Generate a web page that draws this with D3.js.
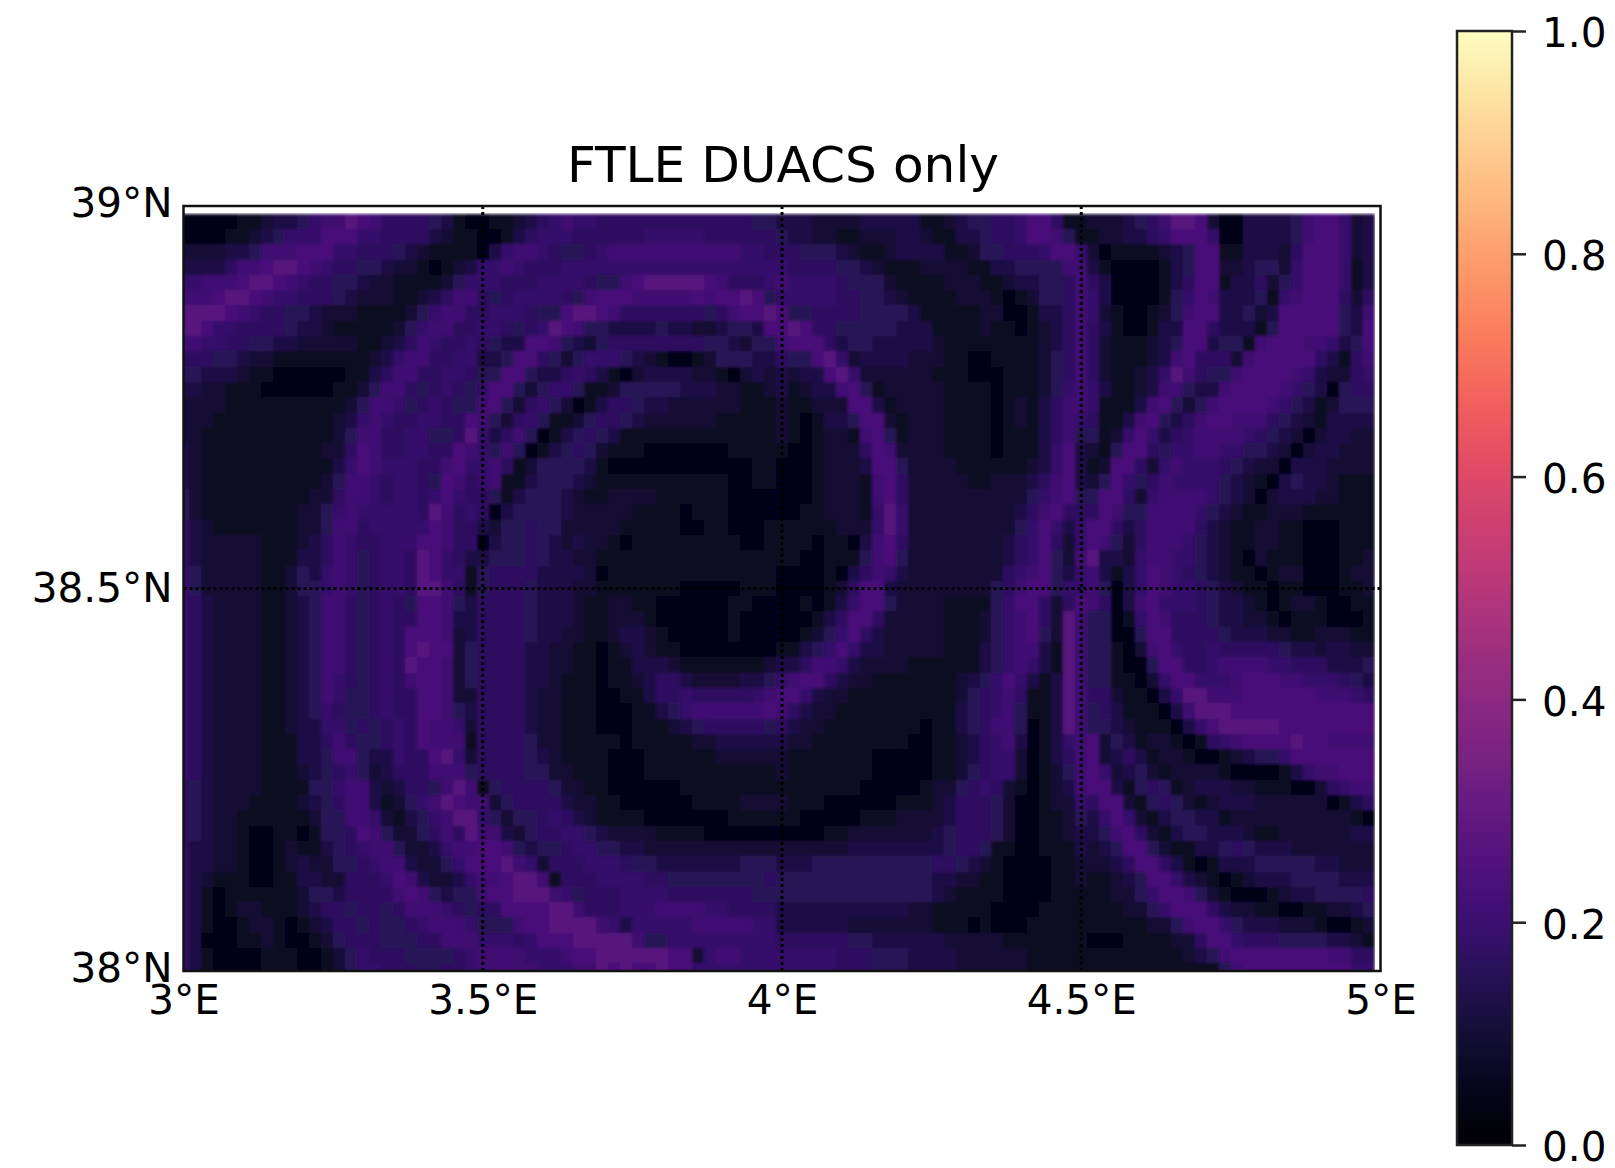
<!DOCTYPE html>
<html>
<head>
<meta charset="utf-8">
<script src="https://cdn.jsdelivr.net/npm/d3@7"></script>
<style>
body { margin: 0; background: #fff; }
text { font-family: "DejaVu Sans", sans-serif; fill: #000; }
</style>
</head>
<body>
<svg id="chart" width="1615" height="1168"></svg>
<script>
const title = "FTLE DUACS only";
const lonTicks = [3, 3.5, 4, 4.5, 5];
const latTicks = [38, 38.5, 39];
const colorTicks = [0, 0.2, 0.4, 0.6, 0.8, 1];
const gridStep = 0.02;

// FTLE, one digit per cell, as an index into levelValues.
const levelValues = [0.035, 0.07, 0.095, 0.125, 0.15, 0.17, 0.19, 0.21, 0.235, 0.265];

// rows run from 38.98N (first) to 38.00N (last)
// longitudes 3.00 - 3.48
const lonBlock1 = [
"0000011233467798755554310","0000112346668886655553211","2222334777888665554321111","3333577899876554432210123",
"6677789987655443221111246","7778998766555432221123577","9999876554432221111246775","9986655554332111112467755",
"7766554433222221123576556","5554432211111111236775566","4433321100000011357755665","3322111000000112477545654",
"2222111111111124776456544","2221111111111236765566558","2211111111111247755664459","3211111111112258755665587",
"3211111111111368766655786","3211111111112477656654875","4211111111122577656656865","4211111111224676666659756",
"5321111111224775666668755","5322222111235765566688755","5322222111335764566598653","6422222112436764566598661",
"6422222112446764566599751","6532222112347754565488743","6532222112347754565588733","6532222112347754565888723",
"6532222112347754565898824","6532222112347754565988724","6532222112347654565788724","6532222112347644565588722",
"6532222112346544565588743","6532222112336645456587762","6532222111335754456587771","6532222111334774336558962",
"6532222111234564235557774","5432222111144677323554797","5432221111234577312467987","5432211111124477621346799",
"5432210011014458742245759","5332210012113456774223677","5332210012322445677322468","5321110011332255568732236",
"5310111111244355557874344","5310122111235545545777654","5310012210123554544567776","5300011210012455544455777",
"5310000111001246555444456","5310000111001246655544556"];
// longitudes 3.50 - 3.98
const lonBlock2 = [
"0112356766555555555555544","0013566655555566666555555","0367765445677777777777665","6676555666666666666666666",
"6655566665447899999875556","5456666547888777778788984","5666544899875555555457889","6654569874433334332234438",
"5433887432455555555443244","3348854246664321001244433","4488433565310233332210232","6884246641124444433322112",
"7842564201355433222222111","7425641124554322222211111","6357401345431111111111111","6474013454211100000001111",
"6751244443100000000000011","6711344432111111111110011","5413444321122221111110000","5034444322222111101110000",
"3244544222221111100110001","0344543232210111111111001","3444543322111111111111111","4555533332011111111111111",
"4555433322111111100000111","5555433321122110000001100","5555433321122210000001000","5555433221123321000001000",
"5555332211012321100000000","5555332211011333211111112","5555332111011235532222334","5555322111001135565555567",
"5555322111000113467777778","5555322111000111234555554","5555422111110111112233333","5555432111100011111122222",
"5555442211100011111111111","1455554221100000011111111","7245555322110000001111222","6424456532111100000001111",
"7732455664322221111000000","8874344566443322222222222","8897625556665443333333444","7789971555666655444444445",
"7889997645556666555555544","5588889975556667777665555","4447889999763666667777766","6665688899999744666666666",
"7777666788999999882677666","7777766677989889886666666"];
// longitudes 4.00 - 4.48
const lonBlock3 = [
"3332222333331123445568851","4332211222332113345568874","5544432112333311244555688","6555544321112222113344447",
"7666654442111122211233445","6666655443211112221012445","8445555444431111122001335","8985544444333111121101235",
"7888534433333211111111235","5448962333322211001111245","3233896222222111000111245","3123378412222211110111246",
"2112228831222211110121357","2101334882122211110121357","2101221784122211110111357","1001222587222211110111368",
"0001222388422221111112368","0001222178522222112223578","0001222178522222222224678","0011222169622222222235785",
"1111122269622222222246863","1110110378522222222356852","1100111478422222222356842","0000103576322222222567843",
"0000125883222222224578846","0010136884222211114688525","0001358852222211124678529","0012468532222211124678429",
"1134686332222211134677319","3357763222211111134676319","6788532211111112346863139","8863221111111112456751139",
"7532211111111113456741139","5322111111110113457740139","3221111111100112356730136","2111111100000112356620135",
"2111111100000112456620124","1111111000001224565210123","2111000000111235554200122","1100000111222235554200112",
"0000112222222345554200112","2222223333333345541100111","3334444444444554321000011","4444444444444332211000011",
"4444444444444321111000011","3333333333322111110000111","3333332222222111010001111","5555554433333322222111111",
"6666655544433332222221111","6666655544433332222221111"];
// longitudes 4.50 - 4.98
const lonBlock4 = [
"1222345799820033334788623","1122335688860033334788623","6201111234881133325888623","7310000134882234426888613",
"7530000135881335246888613","7630000146873334167888525","7621001247883342388888437","7531001338853331488888438",
"7521112348834417888776348","7521112378555278888853157","7521123697544788887632256","7631123774337888876430455",
"7611137842478888764312444","6511378435788777543213333","4412686356777765432023322","3214885466776644320233222",
"3128852676665432203332222","3248645766664321034332111","4488526777764320233322111","5587447777643211222111111",
"6885357777532112211000111","6874257776432112211000111","7933267766432102111000112","6731368765432110122000122",
"6740368766543211011000112","8750378666543321012210011","7440168755543322101110001","7440048855554333221122211",
"7441027865565555543323322","7441004885567777665553334","7441102688666788877666543","7552110369977788888877765",
"7453111037999888888888888","7443211103689999988888888","7824312210156788889887777","7823531221001234468888888",
"7862342122221000013677888","7883145412333221110025677","6588214542123332222220135","4368621344331222222222210",
"3347852134433321122222233","3234884211334543332222222","2223588531013334444433222","2112348863210123334444333",
"1112246887421000123344445","1111224688853221100112234","1111112247886433322210012","1000111122588655544443321",
"1111111112347888888887755","1111111111114788888888866"];

const lonBlocks = [lonBlock1, lonBlock2, lonBlock3, lonBlock4];

const plot = {left: 183.5, right: 1380.5, top: 206, bottom: 971};
const bar = {left: 1457, right: 1512, top: 31, bottom: 1145};

const svg = d3.select("#chart");

const x = d3.scaleLinear().domain([3, 5]).range([plot.left, plot.right]);
const y = d3.scaleLinear().domain([38, 39]).range([plot.bottom, plot.top]);
const c = d3.scaleSequential(d3.interpolateMagma).domain([0, 1]);
const yBar = d3.scaleLinear().domain([0, 1]).range([bar.bottom, bar.top]);

const cells = [];
lonBlocks.forEach((block, b) => {
    block.forEach((row, r) => {
        row.split("").forEach((ch, k) => {
            cells.push({
                lon: 3 + (b * 25 + k) * gridStep,
                lat: 38.98 - r * gridStep,
                value: levelValues[+ch]
            });
        });
    });
});

const defs = svg.append("defs");

defs.append("clipPath").attr("id", "map-clip")
  .append("rect")
    .attr("x", plot.left)
    .attr("y", plot.top)
    .attr("width", plot.right - plot.left)
    .attr("height", plot.bottom - plot.top);

// the reference image is a little soft
defs.append("filter").attr("id", "soft")
    .attr("x", 0).attr("y", 0).attr("width", 1).attr("height", 1)
  .append("feGaussianBlur").attr("stdDeviation", 1.4);

const map = svg.append("g").attr("clip-path", "url(#map-clip)");

map.append("g").attr("filter", "url(#soft)")
  .selectAll("rect")
    .data(cells)
    .join("rect")
    .attr("x", d => x(d.lon - gridStep / 2))
    .attr("y", d => y(d.lat + gridStep / 2))
    .attr("width", x(gridStep) - x(0))
    .attr("height", y(0) - y(gridStep))
    .attr("fill", d => c(d.value))
    .attr("shape-rendering", "crispEdges");

// dotted graticule
map.selectAll(".meridian")
    .data(lonTicks.slice(1, -1))
    .join("line")
    .attr("class", "meridian")
    .attr("x1", d => x(d))
    .attr("x2", d => x(d))
    .attr("y1", plot.top)
    .attr("y2", plot.bottom)
    .attr("stroke", "#000")
    .attr("stroke-width", 3)
    .attr("stroke-dasharray", "3 3");

map.selectAll(".parallel")
    .data(latTicks.slice(1, -1))
    .join("line")
    .attr("class", "parallel")
    .attr("x1", plot.left)
    .attr("x2", plot.right)
    .attr("y1", d => y(d))
    .attr("y2", d => y(d))
    .attr("stroke", "#000")
    .attr("stroke-width", 3)
    .attr("stroke-dasharray", "3 3");

svg.append("rect")
    .attr("x", plot.left)
    .attr("y", plot.top)
    .attr("width", plot.right - plot.left)
    .attr("height", plot.bottom - plot.top)
    .attr("fill", "none")
    .attr("stroke", "#111")
    .attr("stroke-width", 2.5);

// axis labels
const xAxis = svg.append("g")
    .attr("transform", `translate(0, ${plot.bottom})`)
    .call(d3.axisBottom(x).tickValues(lonTicks).tickSize(0).tickPadding(14).tickFormat(d => d + "°E"));
xAxis.select(".domain").remove();
xAxis.selectAll("text").attr("font-size", 40.5).attr("font-family", "DejaVu Sans");

const yAxis = svg.append("g")
    .attr("transform", `translate(${plot.left}, 0)`)
    .call(d3.axisLeft(y).tickValues(latTicks).tickSize(0).tickPadding(11).tickFormat(d => d + "°N"));
yAxis.select(".domain").remove();
yAxis.selectAll("text")
    .attr("font-size", 40.5)
    .attr("font-family", "DejaVu Sans")
    .attr("y", d => d === 38.5 ? 0 : -2);

svg.append("text")
    .attr("x", (plot.left + plot.right) / 2 + 1)
    .attr("y", 182)
    .attr("text-anchor", "middle")
    .attr("font-size", 50.2)
    .text(title);

// colorbar
const gradient = defs.append("linearGradient")
    .attr("id", "magma")
    .attr("x1", 0).attr("x2", 0)
    .attr("y1", 1).attr("y2", 0);
gradient.selectAll("stop")
    .data(d3.range(0, 1.001, 0.02))
    .join("stop")
    .attr("offset", d => d)
    .attr("stop-color", d => c(d));

svg.append("rect")
    .attr("x", bar.left)
    .attr("y", bar.top)
    .attr("width", bar.right - bar.left)
    .attr("height", bar.bottom - bar.top)
    .attr("fill", "url(#magma)")
    .attr("stroke", "#222")
    .attr("stroke-width", 2.5);

const cAxis = svg.append("g")
    .attr("transform", `translate(${bar.right}, 0)`)
    .call(d3.axisRight(yBar).tickValues(colorTicks).tickSize(14).tickPadding(16).tickFormat(d3.format(".1f")));
cAxis.select(".domain").remove();
cAxis.selectAll("line").attr("stroke", "#222").attr("stroke-width", 2.5);
cAxis.selectAll("text")
    .attr("font-size", 40.5)
    .attr("font-family", "DejaVu Sans")
    .attr("y", 3);
</script>
</body>
</html>
